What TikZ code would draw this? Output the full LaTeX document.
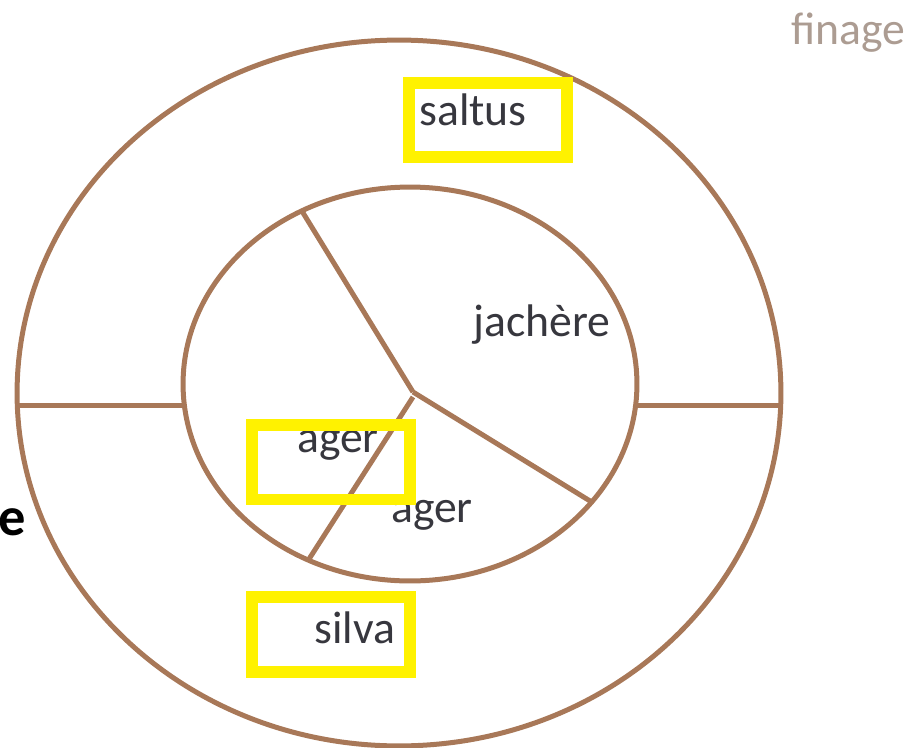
\documentclass[tikz,border=0pt]{standalone}
\usepackage{fontspec}
\setmainfont{Carlito}
\usepackage{tikz}
\usetikzlibrary{shapes.geometric,calc}
\definecolor{soilbrown}{RGB}{168,120,88}
\definecolor{labelgray}{RGB}{55,55,62}
\definecolor{finagegray}{RGB}{172,156,146}
\tikzset{
  ring/.style={
    ellipse, draw=soilbrown, line width=0.1cm, inner sep=0pt, outer sep=0pt
  },
  limit/.style={line width=0.1cm, draw=soilbrown},
  zone/.style={font=\fontsize{26}{30}\selectfont, text=labelgray, inner sep=0pt},
  markbox/.style={
    rectangle, draw=yellow, line width=0.24cm, inner sep=0pt,
    minimum width=3.15cm, minimum height=1.5cm
  }
}

\begin{document}
\begin{tikzpicture}[x=0.02cm,y=-0.02cm]
  \useasboundingbox (0,0) rectangle (909,747);

  \node[ring, minimum width=15.28cm, minimum height=14.12cm] (outer) at (399,393) {};
  \node[ring, minimum width=9.08cm, minimum height=7.88cm] (inner) at (410,384) {};
  \coordinate (hub) at (413,392);
  \coordinate (hubb) at (413,397);
  \coordinate (level) at (0,405);

  \draw[limit] (outer.west |- level) -- (inner.west |- level);
  \draw[limit] (inner.east |- level) -- (outer.east |- level);
  \draw[limit] (hub) -- (inner.122.8);
  \draw[limit] (hub) -- (inner.-33.1);
  \draw[limit] (hubb) -- (inner.240.1);

  \node[zone] (saltus) at (473,110) {saltus};
  \node[zone] (jachere) at (542,325) {jachère};
  \node[zone] (ager1) at (338,445) {ager};
  \node[zone] (ager2) at (432,515) {ager};
  \node[zone] (silva) at (355,628) {silva};
  \node[font=\fontsize{26}{30}\selectfont, text=finagegray, inner sep=0pt] (finage) at (848,33) {finage};
  \node[font=\fontsize{31}{36}\selectfont\bfseries, text=black, inner sep=0pt] (cut) at (12,522) {e};

  \node[markbox] (saltusbox) at (488,120) {};
  \node[markbox] (agerbox) at (331,462) {};
  \node[markbox] (silvabox) at (331,634) {};
\end{tikzpicture}
\end{document}
